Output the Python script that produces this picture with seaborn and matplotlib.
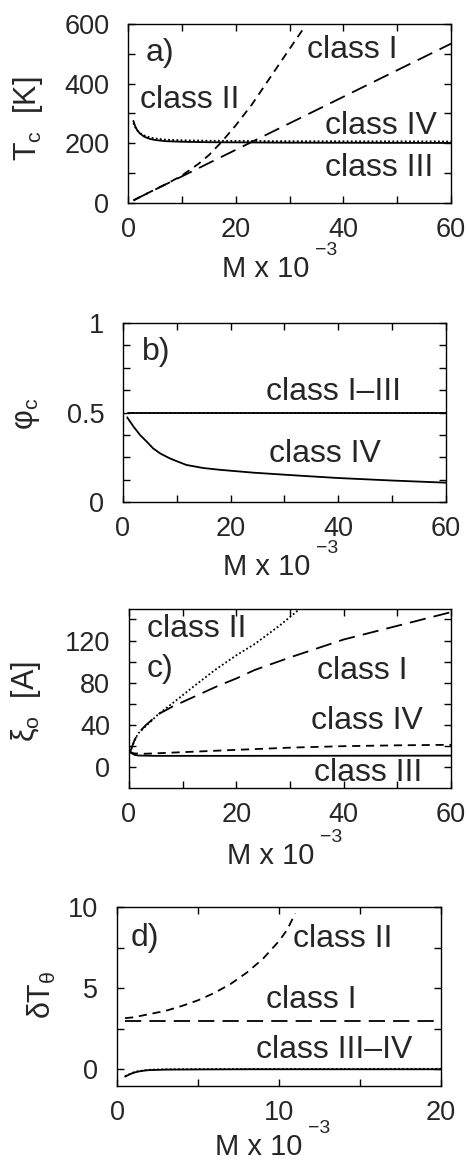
import matplotlib
matplotlib.use("Agg")
import matplotlib.pyplot as plt
import seaborn as sns
import numpy as np
import pandas as pd

# ---------------- data ----------------
# panel a: Tc [K] vs M x 10^-3
a_I_x = [1, 10, 20, 30, 40, 50, 60]
a_I_y = [9, 89, 178, 267, 356, 445, 534]
a_II_x = [1, 3, 5, 8, 10, 13, 15, 17.4, 20, 23, 26, 29, 32.4]
a_II_y = [8, 27, 45, 72, 92, 130, 160, 205, 260, 330, 410, 490, 580]
a_III_x = [1, 1.3, 1.7, 2.2, 3, 4, 5, 7, 10, 15, 20, 30, 45, 60]
a_III_y = [275, 258, 244, 233, 222, 215, 211, 207, 205, 203.5, 203, 202, 201.5, 201]
a_IV_x = [1, 1.3, 1.7, 2.2, 3, 4, 5, 7, 10, 15, 20, 30, 45, 60]
a_IV_y = [268, 255, 243, 234, 226, 220, 216, 212, 210, 208.5, 208, 207, 206.5, 206]

# panel b: phi_c
b_I_x = [1, 60]
b_I_y = [0.5, 0.5]
b_IV_x = [0.8, 2, 3.2, 4.5, 5.6, 7, 8.7, 10, 11.8, 14.9, 18, 24.2, 32.9, 40, 50, 60]
b_IV_y = [0.473, 0.42, 0.374, 0.335, 0.30, 0.27, 0.244, 0.228, 0.207, 0.19, 0.18,
          0.164, 0.147, 0.134, 0.12, 0.108]

# panel c: xi_0 [A]
c_II_x = [0.2, 1, 1.74, 3, 5.45, 8, 11.7, 16, 20, 23.5, 28, 31.8]
c_II_y = [14, 25, 32, 38, 50, 60, 75, 92, 106, 117, 134, 150]
c_I_x = [0.2, 1, 1.74, 3, 5.45, 8, 11, 16.6, 20, 23.4, 30, 40, 50, 60]
c_I_y = [14, 25, 32, 39, 50, 57, 64, 77, 84, 92, 104, 121, 134, 147]
c_IV_x = [0.2, 1, 3, 5, 10, 20, 30, 40, 50, 60]
c_IV_y = [14, 12.8, 12.5, 12.9, 14, 16.2, 18.3, 19.7, 20.5, 21]
c_III_x = [0.2, 1, 1.74, 5, 20, 40, 60]
c_III_y = [14, 11.5, 10.8, 10.5, 10.5, 10.6, 10.7]

# panel d: delta T_theta
d_II_x = [0.5, 1, 2, 3, 4, 5, 6, 7, 8, 9, 10, 10.5, 11]
d_II_y = [3.15, 3.2, 3.4, 3.6, 3.9, 4.25, 4.7, 5.25, 5.95, 6.8, 7.9, 8.6, 9.6]
d_I_x = [0.5, 20]
d_I_y = [3.0, 3.0]
d_III_x = [0.5, 0.7, 1, 1.3, 1.7, 2, 3, 5, 8, 20]
d_III_y = [-0.45, -0.35, -0.22, -0.14, -0.08, -0.05, -0.02, -0.01, 0, 0]
d_IV_x = [0.5, 0.7, 1, 1.3, 1.7, 2, 3, 5, 8, 20]
d_IV_y = [-0.43, -0.33, -0.2, -0.12, -0.06, -0.03, 0, 0.01, 0.02, 0.03]

# ---------------- style ----------------
sns.set_style("ticks")
plt.rcParams["font.family"] = ["Liberation Sans", "DejaVu Sans"]
plt.rcParams["mathtext.fontset"] = "custom"
plt.rcParams["mathtext.rm"] = "Liberation Sans"
plt.rcParams["axes.linewidth"] = 1.0

FS_TICK = 19.5
FS_XLAB = 21
FS_SUP = 14
FS_YLAB = 22
FS_TXT = 23

SOLID = "-"
LONG = (0, (9, 4.5))
MED = (0, (4.5, 3.2))
DOT = (0, (1, 1.3))
LW = 1.3

fig = plt.figure(figsize=(4.69, 11.61), dpi=100)
ax_a = fig.add_axes([0.273, 0.8252, 0.689, 0.1542])
ax_b = fig.add_axes([0.262, 0.5676, 0.689, 0.1542])
ax_c = fig.add_axes([0.275, 0.3213, 0.687, 0.1542])
ax_d = fig.add_axes([0.2495, 0.0646, 0.691, 0.1542])


def draw(ax, x, y, ls, lw=LW):
    sns.lineplot(x=x, y=y, ax=ax, color="black", linestyle=ls, linewidth=lw,
                 estimator=None, sort=False, legend=False)


def style(ax, xticks, xlab, yticks, ylab, xlim, ylim, xlab_pos):
    ax.set_xlim(*xlim)
    ax.set_ylim(*ylim)
    ax.set_xticks(xticks)
    ax.set_yticks(yticks)
    ax.set_xticklabels([xlab.get(t, "") for t in xticks])
    ax.set_yticklabels([ylab.get(t, "") for t in yticks])
    ax.tick_params(direction="in", top=True, right=True, length=5, width=1,
                   labelsize=FS_TICK, color="black")
    ax.tick_params(axis="x", pad=10)
    ax.tick_params(axis="y", pad=13.5)
    for s in ax.spines.values():
        s.set_visible(True)
        s.set_color("black")
    ax.set_xlabel("M x 10", fontsize=FS_XLAB)
    ax.xaxis.set_label_coords(*xlab_pos)
    ax.annotate("−3", xy=(1, 1), xycoords=ax.xaxis.label, xytext=(3.5, -3),
                textcoords="offset points", ha="left", va="bottom",
                fontsize=FS_SUP)


XT = [0, 10, 20, 30, 40, 50, 60]
XL = {0: "0", 20: "20", 40: "40", 60: "60"}

# panel a
draw(ax_a, a_I_x, a_I_y, LONG)
draw(ax_a, a_II_x, a_II_y, MED)
draw(ax_a, a_III_x, a_III_y, SOLID)
draw(ax_a, a_IV_x, a_IV_y, DOT)
style(ax_a, XT, XL,
      [0, 100, 200, 300, 400, 500, 600], {0: "0", 200: "200", 400: "400", 600: "600"},
      (0, 60), (0, 600), (0.427, -0.29))
ax_a.set_ylabel("T$_\\mathregular{c}$  [K]", fontsize=FS_YLAB)
ax_a.yaxis.set_label_coords(-0.257, 0.472)
ax_a.text(6.0, 503, "a)", fontsize=FS_TXT, ha="center", va="center")
ax_a.text(41.7, 512, "class I", fontsize=FS_TXT, ha="center", va="center")
ax_a.text(11.4, 346, "class II", fontsize=FS_TXT, ha="center", va="center")
ax_a.text(46.9, 257, "class IV", fontsize=FS_TXT, ha="center", va="center")
ax_a.text(46.6, 117, "class III", fontsize=FS_TXT, ha="center", va="center")

# panel b
draw(ax_b, b_I_x, b_I_y, SOLID)
draw(ax_b, b_I_x, b_I_y, DOT)
draw(ax_b, b_IV_x, b_IV_y, SOLID)
style(ax_b, XT, XL,
      [0, 0.125, 0.25, 0.375, 0.5, 0.625, 0.75, 0.875, 1.0],
      {0: "0", 0.5: "0.5", 1.0: "1"}, (0, 60), (0, 1), (0.446, -0.285))
ax_b.set_ylabel("φ$_\\mathregular{c}$", fontsize=FS_YLAB)
ax_b.yaxis.set_label_coords(-0.25, 0.49)
ax_b.text(6.25, 0.84, "b)", fontsize=FS_TXT, ha="center", va="center")
ax_b.text(39.2, 0.617, "class I–III", fontsize=FS_TXT, ha="center", va="center")
ax_b.text(37.6, 0.271, "class IV", fontsize=FS_TXT, ha="center", va="center")

# panel c
draw(ax_c, c_II_x, c_II_y, DOT)
draw(ax_c, c_I_x, c_I_y, LONG)
draw(ax_c, c_IV_x, c_IV_y, MED)
draw(ax_c, c_III_x, c_III_y, SOLID)
style(ax_c, XT, XL,
      [0, 20, 40, 60, 80, 100, 120, 140],
      {0: "0", 40: "40", 80: "80", 120: "120"}, (0, 60), (-20, 150), (0.441, -0.30))
ax_c.set_ylabel("ξ$_\\mathregular{o}$  [A]", fontsize=FS_YLAB)
ax_c.yaxis.set_label_coords(-0.267, 0.48)
ax_c.text(12.6, 131, "class II", fontsize=FS_TXT, ha="center", va="center")
ax_c.text(5.7, 93, "c)", fontsize=FS_TXT, ha="center", va="center")
ax_c.text(43.5, 91, "class I", fontsize=FS_TXT, ha="center", va="center")
ax_c.text(44.4, 43.5, "class IV", fontsize=FS_TXT, ha="center", va="center")
ax_c.text(44.6, -5.7, "class III", fontsize=FS_TXT, ha="center", va="center")

# panel d
draw(ax_d, d_II_x, d_II_y, MED)
draw(ax_d, d_I_x, d_I_y, LONG)
draw(ax_d, d_III_x, d_III_y, SOLID)
draw(ax_d, d_IV_x, d_IV_y, DOT)
style(ax_d, [0, 5, 10, 15, 20], {0: "0", 10: "10", 20: "20"},
      [0, 2.5, 5, 7.5, 10], {0: "0", 5: "5", 10: "10"}, (0, 20), (-1.03, 10),
      (0.438, -0.263))
ax_d.set_ylabel("δT$_\\mathregular{θ}$", fontsize=FS_YLAB)
ax_d.yaxis.set_label_coords(-0.182, 0.51)
ax_d.text(1.73, 8.1, "d)", fontsize=FS_TXT, ha="center", va="center")
ax_d.text(13.9, 8.0, "class II", fontsize=FS_TXT, ha="center", va="center")
ax_d.text(12.0, 4.28, "class I", fontsize=FS_TXT, ha="center", va="center")
ax_d.text(13.4, 1.2, "class III–IV", fontsize=FS_TXT, ha="center", va="center")

fig.savefig("out.png", dpi=100)
